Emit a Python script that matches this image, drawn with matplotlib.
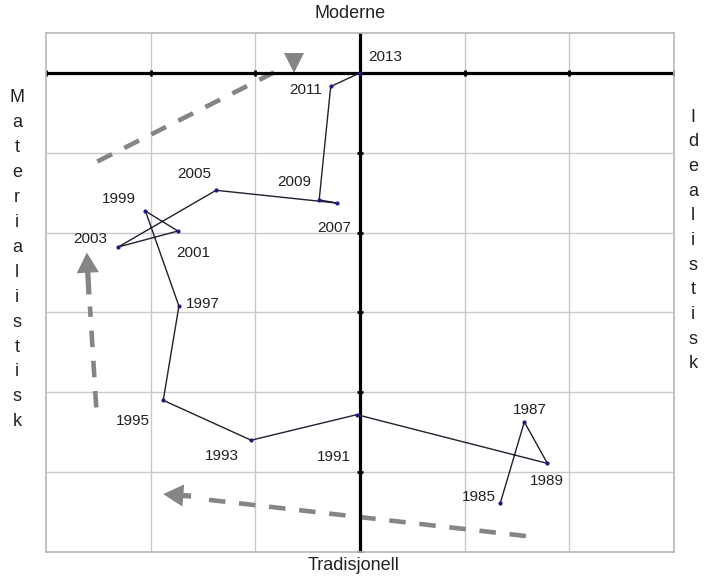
import numpy as np
import matplotlib.pyplot as plt

plt.rcParams['font.family'] = ['Liberation Sans', 'DejaVu Sans']

# yearly positions on the two value axes
years = [1985, 1987, 1989, 1991, 1993, 1995, 1997, 1999, 2001, 2003, 2005, 2007, 2009, 2011, 2013]
x_vals = [1.34, 1.57, 1.79, -0.03, -1.04, -1.88, -1.73, -2.05, -1.74, -2.31, -1.375, -0.22, -0.39, -0.28, 0.0]
y_vals = [-5.39, -4.37, -4.89, -4.28, -4.60, -4.10, -2.92, -1.73, -1.98, -2.18, -1.47, -1.63, -1.59, -0.17, 0.0]

# label offsets in pixels (dx, dy)
label_offsets = {
    1985: (-21, 6), 1987: (5, 12), 1989: (0, -18), 1991: (-23, -42),
    1993: (-29, -16), 1995: (-30, -21), 1997: (24, 2), 1999: (-27, 12),
    2001: (15, -22), 2003: (-28, 8), 2005: (-22, 16), 2007: (-3, -25),
    2009: (-25, 18), 2011: (-25, -4), 2013: (25, 16),
}

# dashed trend arrows: dash start/end, then arrow start/tip
trend_top = [(-2.51, -1.11), (-0.80, 0.02)]
trend_top_head = (-0.635, 0.12)
trend_left = [(-2.52, -4.19), (-2.58, -2.925)]
trend_left_arrow = [(-2.59, -2.775), (-2.61, -2.25)]
trend_bottom = [(1.585, -5.80), (-1.49, -5.34)]
trend_bottom_arrow = [(-1.614, -5.30), (-1.88, -5.275)]

top_label = "Moderne"
bottom_label = "Tradisjonell"
left_label = "Materialistisk"
right_label = "Idealistisk"

fig = plt.figure(figsize=(7.06, 5.85), dpi=100)
ax = fig.add_axes([46 / 706, 33 / 585, 628 / 706, 519 / 585])
ax.set_xlim(-3, 3)
ax.set_ylim(-6, 0.5)

grid_c = '#c8c8c8'
for gx in range(-2, 3):
    ax.axvline(gx, color=grid_c, lw=1, zorder=0)
for gy in range(-5, 0):
    ax.axhline(gy, color=grid_c, lw=1, zorder=0)
for s in ax.spines.values():
    s.set_color('#b8b8b8')
    s.set_linewidth(1.2)
ax.set_xticks([])
ax.set_yticks([])

# main axes
ax.axhline(0, color='black', lw=2.3, zorder=2)
ax.axvline(0, color='black', lw=2.3, zorder=2)
ax.plot(np.arange(-3, 4), np.zeros(7), ls='none', marker='|', ms=5, mew=2, color='black', zorder=2)
ax.plot(np.zeros(6), np.arange(-6, 0), ls='none', marker='_', ms=5, mew=2, color='black', zorder=2)

# trend arrows
gray = '#858585'
def dashed(pts):
    xs = [p[0] for p in pts]
    ys = [p[1] for p in pts]
    ax.plot(xs, ys, color=gray, lw=3.3, dashes=(3.6, 3.0), solid_capstyle='butt', zorder=1)

def head(pts):
    ax.annotate('', xy=pts[1], xytext=pts[0],
                arrowprops=dict(arrowstyle='simple,head_length=1.45,head_width=1.6,tail_width=0.38',
                                color=gray, lw=0, shrinkA=0, shrinkB=0))

dashed(trend_top)
ax.plot(*trend_top_head, marker='v', ms=14.5, color=gray, mew=0, zorder=1)
dashed(trend_left)
head(trend_left_arrow)
dashed(trend_bottom)
head(trend_bottom_arrow)

# the path
ax.plot(x_vals, y_vals, color='#202030', lw=1, marker='o', ms=2, mfc='#1a1a80', mec='#1a1a80', zorder=3)
for yr, xv, yv in zip(years, x_vals, y_vals):
    dx, dy = label_offsets[yr]
    ax.annotate(str(yr), (xv, yv), xytext=(dx, dy), textcoords='offset pixels',
                ha='center', va='center', fontsize=11, color='#222222', zorder=4)

fig.text(350 / 706, 1 - 14 / 585, top_label, ha='center', va='center', fontsize=13, color='#222222')
fig.text(354 / 706, 1 - 565 / 585, bottom_label, ha='center', va='center', fontsize=13, color='#222222')
for i, ch in enumerate(left_label):
    fig.text(17 / 706, 1 - (98 + i * 24.9) / 585, ch, ha='center', va='center', fontsize=13, color='#222222')
for i, ch in enumerate(right_label):
    fig.text(693 / 706, 1 - (117 + i * 24.7) / 585, ch, ha='center', va='center', fontsize=13, color='#222222')

fig.savefig('out.png', dpi=100)
